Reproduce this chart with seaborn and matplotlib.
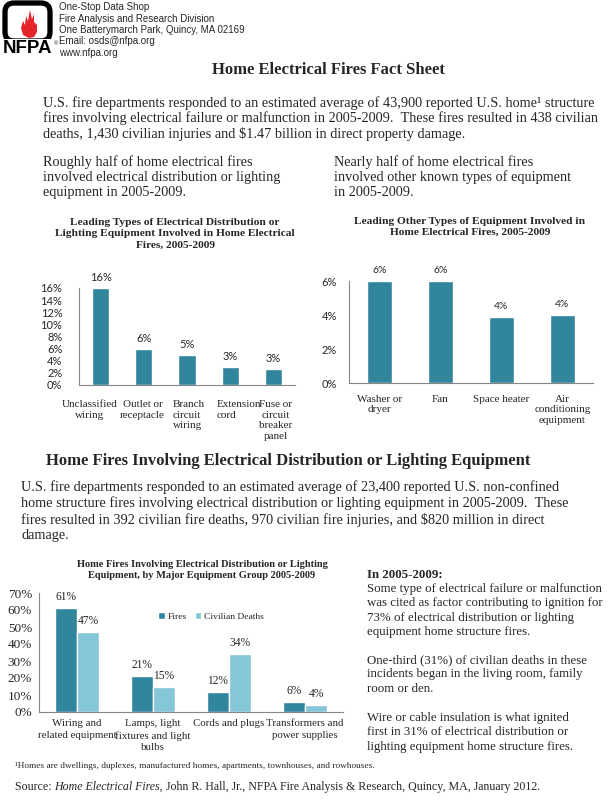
import matplotlib
matplotlib.use("Agg")
import matplotlib.pyplot as plt
import matplotlib.patches as mpatches
import seaborn as sns
import pandas as pd

# chart data
dist_types = ["Unclassified\nwiring", "Outlet or\nreceptacle", "Branch\ncircuit\nwiring",
              "Extension\ncord", "Fuse or\ncircuit\nbreaker\npanel"]
dist_share = [16, 6, 5, 3, 2.7]

other_types = ["Washer or\ndryer", "Fan", "Space heater", "Air\nconditioning\nequipment"]
other_share = [6, 6, 3.9, 4.0]

groups = ["Wiring and\nrelated equipment", "Lamps, light\nfixtures and light\nbulbs",
          "Cords and plugs", "Transformers and\npower supplies"]
fires_pct = [61, 21, 12, 6]
deaths_pct = [47, 15, 34, 4]

TEAL = "#31859C"
LIGHT = "#86C6D9"
AXIS = "#868686"
SERIF = "Liberation Serif"
SANS = "Liberation Sans"
CAL = "Lato"

sns.set_theme(style="white")
plt.rcParams["font.family"] = [SERIF, "DejaVu Sans"]

W, H = 608, 800
fig = plt.figure(figsize=(W / 100, H / 100), dpi=100)


def fx(x):
    return x / W


def fy(y):
    return 1 - y / H


def box(left, top, right, bottom):
    return fig.add_axes([fx(left), fy(bottom), (right - left) / W, (bottom - top) / H])


def lines(x, y0, dy, rows, **kw):
    for i, r in enumerate(rows):
        fig.text(fx(x), fy(y0 + i * dy), r, va="center", **kw)


# ---- header / logo
lax = box(0, 0, 58, 58)
lax.set_xlim(0, 58)
lax.set_ylim(58, 0)
lax.axis("off")
lax.add_patch(mpatches.FancyBboxPatch((5, 3), 45, 38, boxstyle="round,pad=0,rounding_size=9",
                                      fill=False, ec="black", lw=3.8))
flame = [(29, 38), (23, 35), (21, 28), (23, 21), (25, 25), (26, 16), (28, 21), (30, 10),
         (32, 19), (34, 14), (34, 22), (37, 25), (37, 32), (34, 37)]
lax.add_patch(mpatches.Polygon(flame, closed=True, fc="#E3242B", ec="none"))
lax.text(27, 48.5, "NFPA", ha="center", va="center", fontsize=13.5, fontweight="bold",
         family=SANS, color="black",
         bbox=dict(boxstyle="square,pad=0.05", fc="white", ec="none"))
lax.text(55.5, 44, "®", ha="center", va="center", fontsize=4, family=SANS)

lines(59, 7, 11.5, ["One-Stop Data Shop", "Fire Analysis and Research Division",
                    "One Batterymarch Park, Quincy, MA 02169", "Email: osds@nfpa.org",
                    "www.nfpa.org"], fontsize=7, family=SANS)

fig.text(fx(328), fy(70), "Home Electrical Fires Fact Sheet", ha="center", va="center",
         fontsize=12, fontweight="bold")

body = dict(fontsize=10.25)
lines(43, 103, 15.3, [
    "U.S. fire departments responded to an estimated average of 43,900 reported U.S. home\u00b9 structure",
    "fires involving electrical failure or malfunction in 2005-2009.  These fires resulted in 438 civilian",
    "deaths, 1,430 civilian injuries and $1.47 billion in direct property damage."], **body)
lines(43, 162, 15.3, ["Roughly half of home electrical fires",
                      "involved electrical distribution or lighting",
                      "equipment in 2005-2009."], **body)
lines(334, 162, 15.3, ["Nearly half of home electrical fires",
                       "involved other known types of equipment",
                       "in 2005-2009."], **body)


def style_axes(ax, ymax, step, tickfont, ticksize, ypad, xpad, xsize, xspacing):
    sns.despine(ax=ax)
    for s in ("left", "bottom"):
        ax.spines[s].set_color(AXIS)
        ax.spines[s].set_linewidth(0.8)
    ax.set_ylim(0, ymax)
    ax.set_yticks(range(0, ymax + 1, step))
    ax.set_yticklabels([f"{v}%" for v in range(0, ymax + 1, step)], family=tickfont,
                       fontsize=ticksize)
    ax.tick_params(axis="y", length=3, width=0.8, color=AXIS, pad=ypad)
    ax.tick_params(axis="x", length=0, pad=xpad)
    ax.set_xlabel("")
    ax.set_ylabel("")
    ax.grid(False)
    for lab in ax.get_xticklabels():
        lab.set_family(SERIF)
        lab.set_fontsize(xsize)
        lab.set_linespacing(xspacing)


# ---- chart 1
fig.text(fx(175), fy(234), "Leading Types of Electrical Distribution or\n"
         "Lighting Equipment Involved in Home Electrical\nFires, 2005-2009",
         ha="center", va="center", fontsize=8.2, fontweight="bold", linespacing=1.32)
ax1 = box(79, 288, 295, 385)
sns.barplot(x=dist_types, y=dist_share, color=TEAL, saturation=1, width=0.4, ax=ax1)
style_axes(ax1, 16, 2, CAL, 8, 9, 4, 8, 1.23)
ax1.bar_label(ax1.containers[0], fmt="{:.0f}%", padding=3.5, family=CAL, fontsize=8)
ax1.set_xlim(-0.5, 4.5)
# Excel nudges the wrapped category labels, so place them by hand around each category
ax1.set_xticklabels([])
label_shift = [-0.26, -0.03, 0.05, 0.2, 0.06]
label_align = ["center", "center", "left", "left", "center"]
for i, (lab, sh, al) in enumerate(zip(dist_types, label_shift, label_align)):
    ax1.annotate(lab, xy=(i + sh, 0), xycoords=("data", "axes fraction"),
                 xytext=(0, -15), textcoords="offset pixels", ha="center", va="top",
                 multialignment=al, fontsize=8, family=SERIF, linespacing=1.23,
                 annotation_clip=False)

# ---- chart 2
fig.text(fx(470), fy(227), "Leading Other Types of Equipment Involved in\n"
         "Home Electrical Fires, 2005-2009",
         ha="center", va="center", fontsize=8.2, fontweight="bold", linespacing=1.3)
ax2 = box(349, 281, 593, 383)
sns.barplot(x=other_types, y=other_share, color=TEAL, saturation=1, width=0.41, ax=ax2)
style_axes(ax2, 6, 2, CAL, 8, 5.6, 8.3, 8, 1.25)
ax2.bar_label(ax2.containers[0], fmt="{:.0f}%", padding=4, family=CAL, fontsize=7.5)
ax2.set_xlim(-0.5, 3.5)

# ---- section 2
fig.text(fx(288), fy(461), "Home Fires Involving Electrical Distribution or Lighting Equipment",
         ha="center", va="center", fontsize=12, fontweight="bold")
lines(21, 487, 16.3, [
    "U.S. fire departments responded to an estimated average of 23,400 reported U.S. non-confined",
    "home structure fires involving electrical distribution or lighting equipment in 2005-2009.  These",
    "fires resulted in 392 civilian fire deaths, 970 civilian fire injuries, and $820 million in direct",
    "damage."], **body)

# ---- chart 3
fig.text(fx(202), fy(570), "Home Fires Involving Electrical Distribution or Lighting\n"
         "Equipment, by Major Equipment Group 2005-2009",
         ha="center", va="center", fontsize=7.5, fontweight="bold", linespacing=1.2)
df3 = pd.DataFrame({
    "group": groups * 2,
    "pct": fires_pct + deaths_pct,
    "series": ["Fires"] * len(groups) + ["Civilian Deaths"] * len(groups),
})
ax3 = box(39, 593, 343, 712)
sns.barplot(data=df3, x="group", y="pct", hue="series", palette=[TEAL, LIGHT],
            saturation=1, width=0.58, ax=ax3)
style_axes(ax3, 70, 10, SERIF, 9.5, 2, 5, 7.8, 1.38)
for c in ax3.containers:
    ax3.bar_label(c, fmt="{:.0f}%", padding=3.5, family=SERIF, fontsize=8.3)
ax3.set_xlim(-0.5, 3.5)
ax3.legend(loc="center left", bbox_to_anchor=(0.38, 0.80), ncol=2, frameon=False,
           handlelength=0.7, handleheight=0.7, columnspacing=0.8, handletextpad=0.3,
           borderaxespad=0, prop={"family": SERIF, "size": 6.8})

# ---- right text block
side = dict(fontsize=9.3)
fig.text(fx(367), fy(575), "In 2005-2009:", va="center", fontweight="bold", **side)
lines(367, 589, 14.4, ["Some type of electrical failure or malfunction",
                       "was cited as factor contributing to ignition for",
                       "73% of electrical distribution or lighting",
                       "equipment home structure fires."], **side)
lines(367, 660, 14.4, ["One-third (31%) of civilian deaths in these",
                       "incidents began in the living room, family",
                       "room or den."], **side)
lines(367, 718, 14.4, ["Wire or cable insulation is what ignited",
                       "first in 31% of electrical distribution or",
                       "lighting equipment home structure fires."], **side)

# ---- footnote and source
fig.text(fx(15), fy(766), "\u00b9Homes are dwellings, duplexes, manufactured homes, apartments, "
         "townhouses, and rowhouses.", va="center", fontsize=6.7)

fig.canvas.draw()
rend = fig.canvas.get_renderer()
x = fx(15)
for piece, st in [("Source: ", "normal"), ("Home Electrical Fires,", "italic"),
                  (" John R. Hall, Jr., NFPA Fire Analysis & Research, Quincy, MA, January 2012.",
                   "normal")]:
    t = fig.text(x, fy(787), piece, va="center", fontsize=8.6, style=st)
    bb = t.get_window_extent(rend)
    x += bb.width / W

fig.savefig("out.png", dpi=100)
